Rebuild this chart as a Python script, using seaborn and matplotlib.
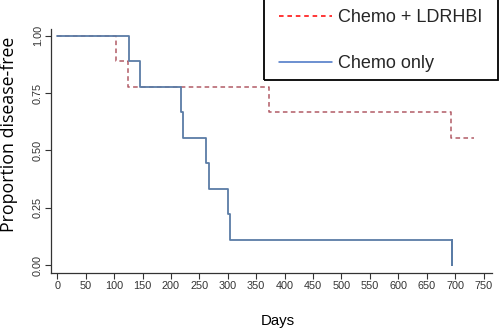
import numpy as np
import pandas as pd
import matplotlib
matplotlib.use("Agg")
import matplotlib.pyplot as plt
import seaborn as sns
from matplotlib.lines import Line2D
from matplotlib.patches import Rectangle

# Kaplan-Meier step data (days, survival)
ldr_days = [0, 103, 125, 373, 693, 733]
ldr_surv = [1.0, 0.889, 0.778, 0.667, 0.556, 0.556]
chemo_days = [0, 127, 145, 218, 222, 262, 267, 300, 304, 694, 694]
chemo_surv = [1.0, 0.889, 0.778, 0.667, 0.556, 0.444, 0.333, 0.222, 0.111, 0.111, 0.0]

series_names = ["Chemo + LDRHBI", "Chemo only"]
x_ticks = list(range(0, 751, 50))
y_ticks = [0.0, 0.25, 0.5, 0.75, 1.0]

sns.set_style("ticks")
plt.rcParams['font.family'] = ['Liberation Sans', 'DejaVu Sans']

W, H = 500, 329
fig = plt.figure(figsize=(5, 3.29), dpi=100)
ax = fig.add_axes([0.102, 0.170, 0.881, 0.742])

df_ldr = pd.DataFrame({"days": ldr_days, "surv": ldr_surv})
df_ch = pd.DataFrame({"days": chemo_days, "surv": chemo_surv})

sns.lineplot(data=df_ldr, x="days", y="surv", ax=ax, drawstyle="steps-post",
             color="#b25b66", linestyle=(0, (3, 2.2)), linewidth=1.1, estimator=None)
sns.lineplot(data=df_ch, x="days", y="surv", ax=ax, drawstyle="steps-post",
             color="#5a7ca6", linewidth=1.3, estimator=None)

ax.set_xlim(-11, 764)
ax.set_ylim(-0.035, 1.03)
ax.set_xticks(x_ticks)
ax.set_xticklabels([str(v) for v in x_ticks], fontsize=7.8, color="#333333")
ax.set_yticks(y_ticks)
ax.set_yticklabels([f"{v:.2f}" for v in y_ticks], fontsize=7.8, color="#333333",
                   rotation=90, va="center")
ax.tick_params(axis="both", length=4, width=0.8, color="#333333", pad=2)
for s in ["top", "right"]:
    ax.spines[s].set_visible(False)
for s in ["left", "bottom"]:
    ax.spines[s].set_color("#333333")
    ax.spines[s].set_linewidth(0.9)

ax.set_xlabel("Days", fontsize=10.8, color="black")
ax.xaxis.set_label_coords(0.516, -0.168)
ax.set_ylabel("Proportion disease-free", fontsize=12.8, family=["Open Sans", "DejaVu Sans"],
              color="black")
ax.yaxis.set_label_coords(-0.074, 0.568)

# legend frame
fig.patches.append(Rectangle((264 / W, 1 - 80 / H), 234 / W, 80 / H + 0.01,
                             transform=fig.transFigure, fill=False,
                             edgecolor="black", linewidth=1.3))
handles = [Line2D([], [], color="#ff0000", linestyle=(0, (3, 2.5)), linewidth=1.1),
           Line2D([], [], color="#4472c4", linewidth=1.1)]
leg = fig.legend(handles, series_names, loc="upper left",
                 bbox_to_anchor=(279 / W, 1 - 9 / H),
                 frameon=False, fontsize=13,
                 handlelength=2.95, handletextpad=0.33, labelspacing=1.6,
                 borderpad=0, borderaxespad=0)

fig.savefig("out.png", dpi=100)
